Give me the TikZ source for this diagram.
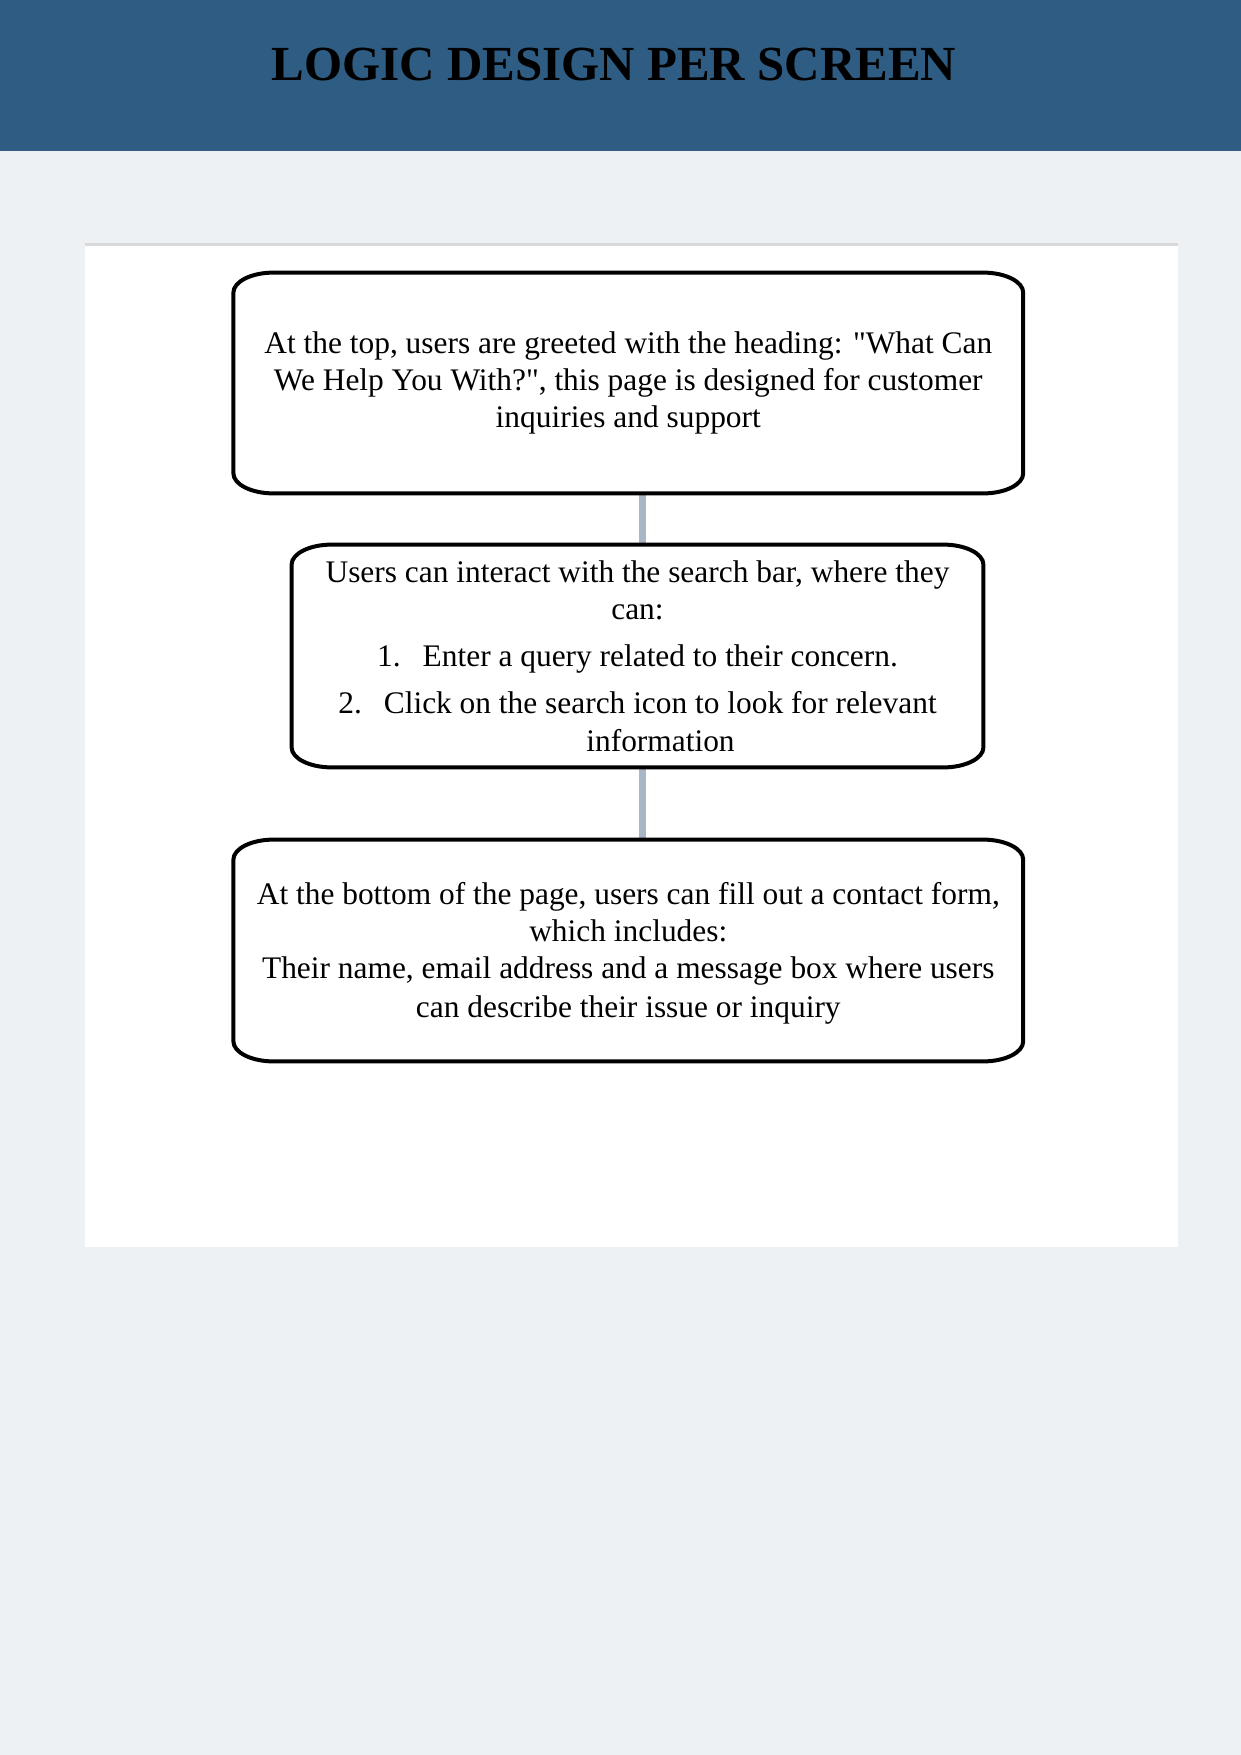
\documentclass[tikz,border=0pt]{standalone}
\usepackage{fontspec}
\setmainfont{Liberation Serif}
\usetikzlibrary{calc}

\definecolor{headblue}{RGB}{46,92,130}
\definecolor{pagegray}{RGB}{237,241,244}
\definecolor{linkgray}{RGB}{169,182,198}
\definecolor{rulegray}{RGB}{217,217,217}

\tikzset{
  screentext/.style={draw=none, inner sep=0pt, align=center, font=\fontsize{15.7}{18.6}\selectfont},
  boxline/.style={draw=black, line width=2pt},
  link/.style={draw=linkgray, line width=3.5pt}
}

% rounded outline round a box node
\newcommand{\screenbox}[1]{%
\draw[boxline] ($(#1.north west)+(40,0)$) -- ($(#1.north east)+(-40,0)$)
 .. controls ($(#1.north east)+(-18,0)$) and ($(#1.north east)+(0,9)$) .. ($(#1.north east)+(0,20)$)
 -- ($(#1.south east)+(0,-20)$)
 .. controls ($(#1.south east)+(0,-9)$) and ($(#1.south east)+(-18,0)$) .. ($(#1.south east)+(-40,0)$)
 -- ($(#1.south west)+(40,0)$)
 .. controls ($(#1.south west)+(18,0)$) and ($(#1.south west)+(0,-9)$) .. ($(#1.south west)+(0,-20)$)
 -- ($(#1.north west)+(0,20)$)
 .. controls ($(#1.north west)+(0,9)$) and ($(#1.north west)+(18,0)$) .. cycle;}

\begin{document}
\begin{tikzpicture}[x=0.5pt,y=0.5pt,yscale=-1,xscale=1]
\useasboundingbox (0,0) rectangle (1241,1755);

%Page and header
\fill[pagegray] (0,0) rectangle (1241,1755);
\fill[headblue] (0,0) rectangle (1241,151);
\fill[white] (85,243) rectangle (1178,1247);
\fill[rulegray] (85,243) rectangle (1178,246);

% Text Node
\node (title) at (614,65) [inner sep=0pt, font=\fontsize{24.5}{28}\selectfont\bfseries] {LOGIC DESIGN PER SCREEN};

% Text Node
\node (top) at (628.3,383) [screentext, minimum width=394.5pt, minimum height=110pt]
 {At the top, users are greeted with the heading: \textquotedbl What Can\\
 We Help You With?\textquotedbl, this page is designed for customer\\
 inquiries and support};
% Text Node
\node (search) at (637.5,656) [screentext, minimum width=345.5pt, minimum height=111pt]
 {Users can interact with the search bar, where they\\
 can:\\[5pt]
 1.\hspace{11pt}Enter a query related to their concern.\\[5pt]
 2.\hspace{11pt}Click on the search icon to look for relevant\\
 \hspace*{23pt}information};
% Text Node
\node (form) at (628.3,950.5) [screentext, minimum width=394.5pt, minimum height=110.5pt]
 {\rule{0pt}{14pt}At the bottom of the page, users can fill out a contact form,\\
 which includes:\\
 Their name, email address and a message box where users\\[1pt]
 can describe their issue or inquiry};

%Straight Lines
\draw[link] ([xshift=6.85pt]top.south) -- ([xshift=6.85pt]top.south |- search.north);
\draw[link] ([xshift=2.25pt]search.south) -- ([xshift=2.25pt]search.south |- form.north);

%Box outlines
\foreach \b in {top,search,form}{\screenbox{\b}}

\end{tikzpicture}
\end{document}
